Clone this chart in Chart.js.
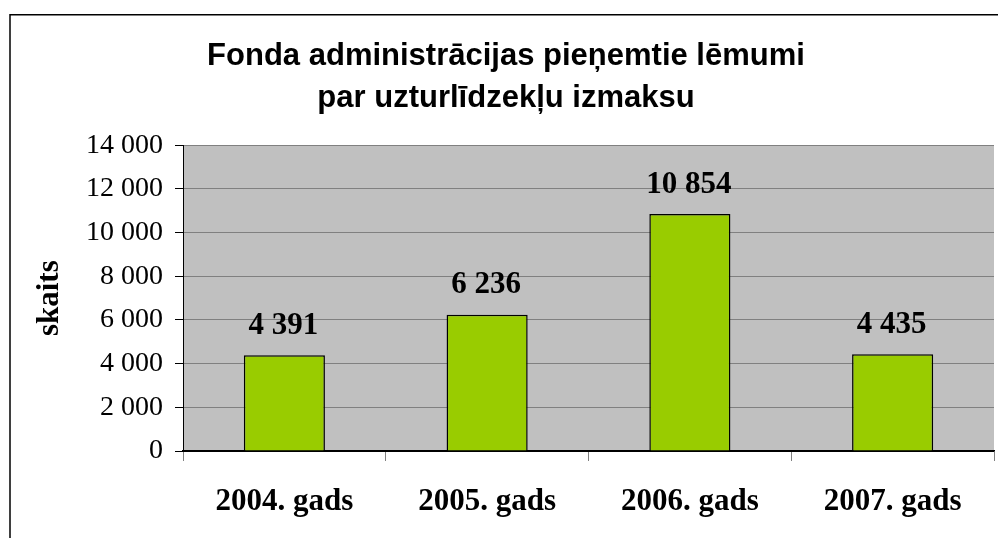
<!DOCTYPE html>
<html>
<head>
<meta charset="utf-8">
<script src="https://cdn.jsdelivr.net/npm/chart.js@4/dist/chart.umd.min.js"></script>
<style>
  html, body { margin: 0; padding: 0; background: #fff; }
  #wrap { position: relative; width: 998px; height: 538px; }
</style>
</head>
<body>
<div id="wrap"><canvas id="c" width="998" height="538"></canvas></div>
<script>
const titleLines = ['Fonda administrācijas pieņemtie lēmumi', 'par uzturlīdzekļu izmaksu'];
const categories = ['2004. gads', '2005. gads', '2006. gads', '2007. gads'];
const decisions = [4391, 6236, 10854, 4435];
const yAxisTitle = 'skaits';
const yTickMin = 0;
const yTickMax = 14000;
const yTickStep = 2000;

const SERIF = "'Times New Roman', 'Liberation Serif', serif";
const SANS = "Arial, 'Liberation Sans', sans-serif";

function fmt(v) {
  return String(v).replace(/\B(?=(\d{3})+(?!\d))/g, ' ');
}

const frameAndBg = {
  id: 'frameAndBg',
  beforeDraw(chart) {
    const { ctx, chartArea: a } = chart;
    ctx.save();
    ctx.fillStyle = '#fff';
    ctx.fillRect(0, 0, chart.width, chart.height);
    ctx.fillStyle = '#C0C0C0';
    ctx.fillRect(a.left, a.top, a.right - a.left, a.bottom - a.top);
    ctx.restore();
  },
  afterDraw(chart) {
    const ctx = chart.ctx;
    ctx.save();
    ctx.strokeStyle = '#000';
    ctx.lineWidth = 1.5;
    ctx.beginPath();
    ctx.moveTo(10, chart.height);
    ctx.lineTo(10, 14.75);
    ctx.lineTo(chart.width, 14.75);
    ctx.stroke();
    ctx.restore();
  }
};

const valueLabels = {
  id: 'valueLabels',
  afterDatasetsDraw(chart) {
    const ctx = chart.ctx;
    const meta = chart.getDatasetMeta(0);
    ctx.save();
    ctx.fillStyle = '#000';
    ctx.font = 'bold 31px ' + SERIF;
    ctx.textAlign = 'center';
    ctx.textBaseline = 'alphabetic';
    meta.data.forEach((bar, i) => {
      ctx.fillText(fmt(chart.data.datasets[0].data[i]), bar.x - 1, bar.y - 21.5);
    });
    ctx.restore();
  }
};

new Chart(document.getElementById('c'), {
  type: 'bar',
  data: {
    labels: categories,
    datasets: [{
      data: decisions,
      backgroundColor: '#99CC00',
      borderColor: '#000',
      borderWidth: 1.5,
      barPercentage: 0.4,
      categoryPercentage: 1.0
    }]
  },
  options: {
    responsive: false,
    animation: false,
    layout: { padding: { left: 18, right: 4, top: 0, bottom: 0 } },
    plugins: {
      legend: { display: false },
      tooltip: { enabled: false },
      title: {
        display: true,
        text: titleLines,
        color: '#000',
        font: { family: SANS, size: 31, weight: 'bold', lineHeight: 1.36 },
        padding: { top: 35, bottom: 26 }
      }
    },
    scales: {
      x: {
        afterFit(scale) { scale.height = 87; },
        grid: {
          display: true,
          drawOnChartArea: false,
          drawTicks: true,
          tickLength: 10,
          tickColor: '#808080',
          offset: true
        },
        border: { display: true, color: '#000', width: 1.5 },
        ticks: {
          color: '#000',
          font: { family: SERIF, size: 31, weight: 'bold' },
          padding: 22,
          maxRotation: 0
        }
      },
      y: {
        min: yTickMin,
        max: yTickMax,
        afterFit(scale) { scale.width = 165; },
        grid: {
          color: (c) => (c.tick && c.tick.value === 0 ? '#000' : '#808080'),
          tickColor: '#000',
          tickLength: 8,
          drawTicks: true
        },
        border: { display: true, color: '#000', width: 1 },
        ticks: {
          stepSize: yTickStep,
          color: '#000',
          font: { family: SERIF, size: 28 },
          padding: 12,
          callback: (v) => fmt(v)
        },
        title: {
          display: true,
          text: yAxisTitle,
          color: '#000',
          font: { family: SERIF, size: 31, weight: 'bold', lineHeight: 1.2 },
          padding: { top: 13, bottom: 0 }
        }
      }
    }
  },
  plugins: [frameAndBg, valueLabels]
});
</script>
</body>
</html>
